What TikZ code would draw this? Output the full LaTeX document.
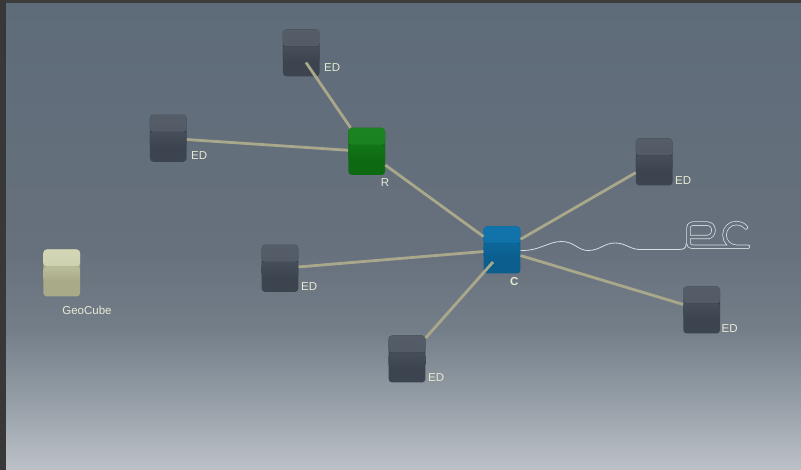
\documentclass[tikz,border=0pt]{standalone}
\usepackage{fontspec}
\setmainfont{Liberation Sans}
\usetikzlibrary{calc}

% background colours, top to bottom
\definecolor{bgtop}{HTML}{5E6B79}
\definecolor{bgmid}{HTML}{67717D}
\definecolor{bglow}{HTML}{747E89}
\definecolor{bgpale}{HTML}{959EA6}
\definecolor{bgfoot}{HTML}{BCC2C7}
\definecolor{framedark}{HTML}{3C3C3A}
\definecolor{linkcol}{HTML}{AAA88A}
\definecolor{labelcol}{HTML}{E6EAD2}
\definecolor{tracecol}{HTML}{D8DDE2}
% cube faces: top / front
\definecolor{edtop}{HTML}{545D68}
\definecolor{edfront}{HTML}{3C454F}
\definecolor{rtop}{HTML}{1B8420}
\definecolor{rfront}{HTML}{0E6A12}
\definecolor{ctop}{HTML}{1174AC}
\definecolor{cfront}{HTML}{0B5E8E}
\definecolor{gtop}{HTML}{D3D6B5}
\definecolor{gfront}{HTML}{A9AB88}

% pgf maps a path onto the 25bp..75bp band of a shading
\pgfdeclareverticalshading{backdrop}{100bp}{%
  color(0bp)=(bgfoot); color(25bp)=(bgfoot); color(32.4bp)=(bgpale);
  color(39.9bp)=(bglow); color(48.4bp)=(bgmid); color(75bp)=(bgtop);
  color(100bp)=(bgtop)}

\tikzset{
  cubebox/.style 2 args={minimum width=36.7pt, minimum height=47pt,
    inner sep=0pt, rounded corners=3.5pt, fill=#2,
    path picture={
      \fill[top color=#1, bottom color=#1!70!#2]
        (path picture bounding box.north west)
        rectangle ([yshift=-17pt]path picture bounding box.north east);
      \fill[top color=#2!60!#1, bottom color=#2]
        ([yshift=-17pt]path picture bounding box.north west)
        rectangle ([yshift=-32pt]path picture bounding box.north east);
    }},
  edcube/.style={cubebox={edtop}{edfront}},
  link/.style={draw=linkcol, line width=2.8pt},
  tag/.style={text=labelcol, font=\fontsize{11.5}{12}\selectfont, inner sep=0pt},
}

\begin{document}
\begin{tikzpicture}[x=1pt, y=-1pt]
  \useasboundingbox (0,0) rectangle (801,470);
  % backdrop and frame
  \shade[shading=backdrop] (0,0) rectangle (801,470);
  \fill[framedark] (0,0) rectangle (801,3);
  \fill[black!78] (0,0) rectangle (6,470);

  % cubes
  \node[cubebox={rtop}{rfront}] (R) at (366.7,151.5) {};
  \node[cubebox={ctop}{cfront}] (C) at (502,250) {};
  \node[edcube] (ed1) at (301.3,53) {};
  \node[edcube] (ed2) at (168.3,138.3) {};
  \node[edcube] (ed3) at (654.2,162) {};
  \node[edcube] (ed4) at (280,268.5) {};
  \node[edcube] (ed5) at (701.7,310) {};
  \node[edcube] (ed6) at (407,359) {};
  \node[cubebox={gtop}{gfront}] (geo) at (61.7,273) {};

  % points on the front faces where links meet in depth
  \coordinate (ed1face) at (306,62.5);
  \coordinate (cface) at (493,262);

  % links between cubes
  \draw[link] (ed2) -- (R);
  \draw[link] (R) -- (C);
  \draw[link] (ed4) -- (C);
  \draw[link] (C) -- (ed3);
  \draw[link] (C) -- (ed5);
  \draw[link] (ed1face) -- (R);
  \draw[link] (ed6) -- (cface);

  % labels
  \node[tag, anchor=west] (l1) at (324,68) {ED};
  \node[tag, anchor=west] (l2) at (191,156) {ED};
  \node[tag] (lr) at (385,182.5) {R};
  \node[tag, anchor=west] (l3) at (675,181) {ED};
  \node[tag] (lc) at (514.3,282) {\textbf{C}};
  \node[tag, anchor=west] (l4) at (301,287) {ED};
  \node[tag, anchor=west] (l5) at (721.5,329) {ED};
  \node[tag, anchor=west] (l6) at (428,378) {ED};
  \node[tag] (lg) at (87,310) {GeoCube};

  % wavy trace leaving C and running into the outlined PC letters
  \coordinate (traceend) at (686.3,243);
  \draw[tracecol, line width=0.8pt]
    (C.east |- 0,250.5) .. controls (540,251) and (548,241.5) .. (561.5,241.5)
    .. controls (574,241.5) and (578,250.5) .. (588,250.5)
    .. controls (600,250.5) and (604,243) .. (615,243)
    .. controls (626,243) and (630,249.5) .. (640,249.5)
    -- (679,249.5) .. controls (684,249.5) and (686.3,248) .. (traceend);
  \draw[tracecol, line width=0.75pt, double=bgmid, double distance=2.9pt,
        line cap=round, line join=round]
    (748,246.8) -- (692.5,246.8) .. controls (690,246.8) and (688.5,245.3) .. (688.5,243)
    -- (688.5,228) .. controls (688.5,225.5) and (689.8,223.7) .. (692.5,223.7)
    -- (707.5,223.7) .. controls (711,223.7) and (713.5,226.5) .. (713.5,230.3)
    .. controls (713.5,234) and (711,237) .. (707.5,237) -- (690,237)
    (746,227.5) .. controls (743.5,224.5) and (740,223) .. (736.5,223)
    .. controls (729.8,223) and (724.5,228.3) .. (724.5,235)
    .. controls (724.5,241.7) and (729.8,246.8) .. (736.5,246.8);
\end{tikzpicture}
\end{document}
